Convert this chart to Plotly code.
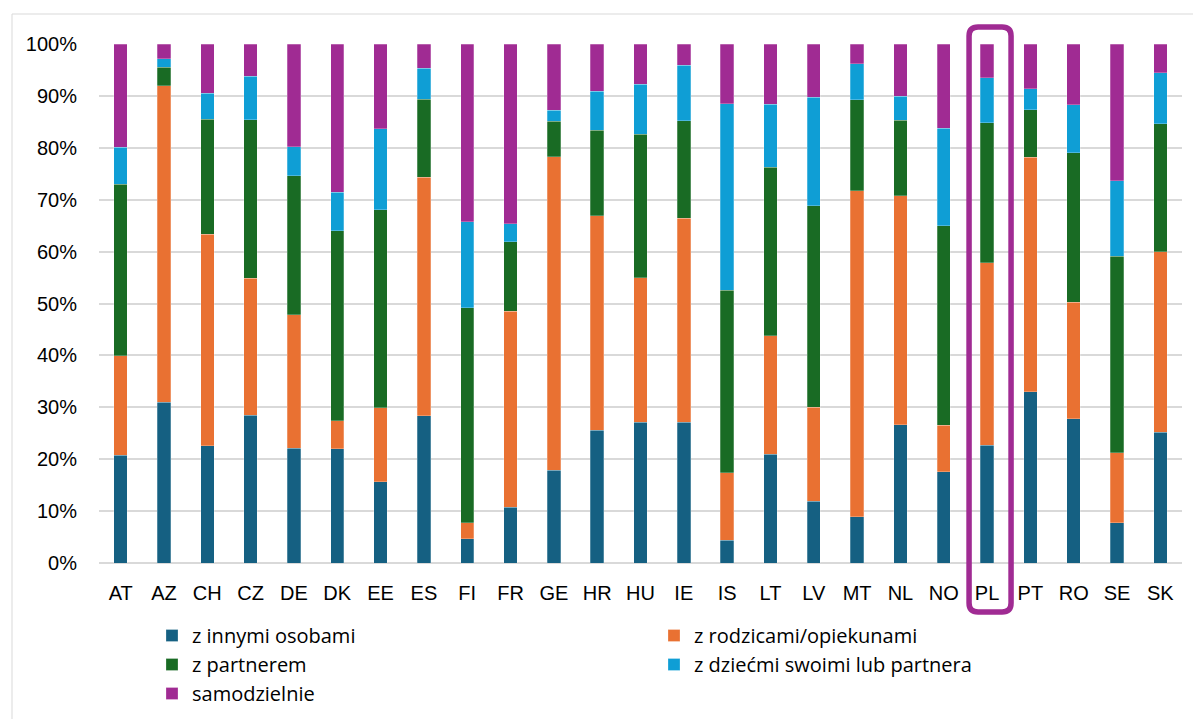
import plotly.graph_objects as go

countries = ["AT", "AZ", "CH", "CZ", "DE", "DK", "EE", "ES", "FI", "FR", "GE", "HR", "HU",
             "IE", "IS", "LT", "LV", "MT", "NL", "NO", "PL", "PT", "RO", "SE", "SK"]

z_innymi = [20.8, 31.0, 22.6, 28.5, 22.1, 22.0, 15.7, 28.4, 4.7, 10.7, 17.9, 25.6, 27.1,
            27.1, 4.4, 21.0, 11.9, 8.9, 26.6, 17.6, 22.7, 33.0, 27.8, 7.8, 25.2]
z_rodzicami = [19.1, 61.0, 40.7, 26.4, 25.7, 5.4, 14.2, 45.9, 3.1, 37.8, 60.4, 41.3, 27.9,
               39.3, 13.0, 22.8, 18.1, 62.8, 44.2, 8.9, 35.2, 45.2, 22.4, 13.4, 34.8]
z_partnerem = [33.1, 3.5, 22.2, 30.5, 26.8, 36.6, 38.2, 15.1, 41.4, 13.4, 6.8, 16.5, 27.6,
               18.8, 35.2, 32.5, 38.8, 17.6, 14.5, 38.5, 26.9, 9.1, 28.8, 37.9, 24.6]
z_dziecmi = [7.1, 1.7, 5.0, 8.4, 5.6, 7.4, 15.6, 5.9, 16.6, 3.5, 2.1, 7.5, 9.6,
             10.7, 35.9, 12.1, 20.9, 6.9, 4.6, 18.8, 8.7, 4.1, 9.3, 14.6, 9.9]
samodzielnie = [19.9, 2.8, 9.5, 6.2, 19.8, 28.6, 16.3, 4.7, 34.2, 34.6, 12.8, 9.1, 7.8,
                4.1, 11.5, 11.6, 10.3, 3.8, 10.1, 16.2, 6.5, 8.6, 11.7, 26.3, 5.5]

series = [
    ("z innymi osobami", z_innymi, "#156082"),
    ("z rodzicami/opiekunami", z_rodzicami, "#E97132"),
    ("z partnerem", z_partnerem, "#196B24"),
    ("z dziećmi swoimi lub partnera", z_dziecmi, "#0F9ED5"),
    ("samodzielnie", samodzielnie, "#A02B93"),
]

highlight = "PL"

fig = go.Figure()
for name, vals, color in series:
    fig.add_trace(go.Bar(
        x=countries,
        y=[v / 100 for v in vals],
        name=name,
        marker=dict(color=color, line=dict(color="rgba(255,255,255,0.5)", width=0.5)),
    ))

# plot area as seen in the page (the page body adds an 8px offset)
page_off = 8
left, top, width, height = 99, 44, 1083, 519
n = len(countries)
idx = countries.index(highlight)
cx = left + (idx + 0.5) / n * width

def px_x(p):
    return (p - left) / width

def px_y(p):
    return (top + height - p) / height

# rounded box around the highlighted country
bx0, bx1 = px_x(cx - 18), px_x(cx + 24)
by0, by1 = px_y(612), px_y(27)
rx, ry = 9 / width, 9 / height
box = (f"M {bx0 + rx},{by1} L {bx1 - rx},{by1} Q {bx1},{by1} {bx1},{by1 - ry} "
       f"L {bx1},{by0 + ry} Q {bx1},{by0} {bx1 - rx},{by0} "
       f"L {bx0 + rx},{by0} Q {bx0},{by0} {bx0},{by0 + ry} "
       f"L {bx0},{by1 - ry} Q {bx0},{by1} {bx0 + rx},{by1} Z")

ml, mt = left - page_off, top - page_off
fig.update_layout(
    width=1201,
    height=719,
    barmode="stack",
    bargap=0.69,
    plot_bgcolor="white",
    paper_bgcolor="white",
    margin=dict(l=ml, r=1201 - ml - width, t=mt, b=719 - mt - height, autoexpand=False),
    font=dict(family="Liberation Sans, Arial", size=20, color="#000000"),
    xaxis=dict(
        showgrid=False,
        showline=False,
        ticks="",
        ticklabelstandoff=16,
        tickfont=dict(size=20),
    ),
    yaxis=dict(
        range=[0, 1],
        tickformat=".0%",
        dtick=0.1,
        showgrid=True,
        gridcolor="#d9d9d9",
        gridwidth=1.5,
        zeroline=True,
        zerolinecolor="#d9d9d9",
        zerolinewidth=1.5,
        ticks="",
        ticklabelstandoff=21,
        tickfont=dict(size=20),
    ),
    legend=dict(
        orientation="h",
        x=px_x(152),
        xanchor="left",
        y=px_y(616),
        yanchor="top",
        entrywidth=457,
        entrywidthmode="pixels",
        font=dict(family="Open Sans", size=20),
        traceorder="normal",
    ),
    shapes=[
        dict(type="path", xref="paper", yref="paper", path=box,
             line=dict(color="#A02B93", width=5.5)),
        dict(type="rect", xref="paper", yref="paper",
             x0=px_x(12), x1=px_x(1230), y0=px_y(740), y1=px_y(14),
             line=dict(color="#d9d9d9", width=1)),
    ],
)

fig.write_html("out.html")
